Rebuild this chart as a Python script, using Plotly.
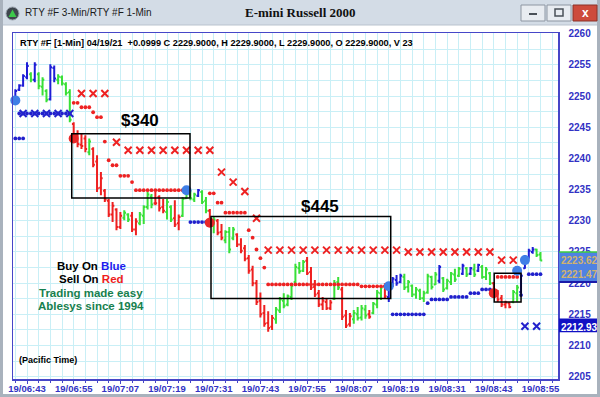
import plotly.graph_objects as go

# ---------------- data (x = minutes after 06:00, one bar per minute) ----------------
bar_minute = list(range(40, 176))            # 06:40 ... 08:55
bar_color = ("BBBBGBGGGBBGGGG" "RRRRGRRRRRRRRGG" "RRGGGGRRRGGRRGG" "GGBGGRGRRGGGRRR"
             "RRRRRRRGGGGGGGG" "RRRRRRRGGRRRGGG" "GRGGGRBBBBGGGGG" "GGGGBGGGGGBGBGB"
             "GGGRRRRRGGBBBBGG")
bar_open = [2249.3,2251.0,2251.7,2253.0,2253.5,2252.6,2253.5,2251.5,2250.8,2249.5,2254.5,2252.6,2253.0,2251.9,2250.6,
 2245.5,2243.8,2242.2,2243.2,2241.0,2241.5,2239.5,2235.3,2234.8,2233.2,2231.0,2231.8,2229.0,2230.5,2231.0,
 2230.8,2228.6,2229.6,2230.8,2232.2,2233.9,2232.8,2233.8,2232.2,2231.4,2232.2,2230.4,2229.6,2230.8,2233.6,
 2234.2,2233.4,2234.0,2234.6,2233.2,2231.6,2229.4,2230.0,2228.2,2226.9,2228.2,2227.2,2227.8,2226.2,2225.6,
 2224.0,2222.2,2220.0,2217.2,2215.2,2213.6,2213.0,2214.2,2215.6,2217.2,2216.6,2217.8,2220.2,2222.4,2222.0,
 2223.6,2221.8,2219.4,2218.4,2216.6,2217.0,2216.0,2217.5,2220.2,2219.0,2214.8,2213.4,2214.2,2215.0,2214.5,
 2215.8,2215.0,2215.2,2216.6,2218.4,2219.5,2217.8,2219.6,2220.5,2220.2,2221.0,2219.4,2219.6,2218.2,2218.8,
 2217.6,2218.5,2221.0,2219.8,2220.4,2220.8,2219.2,2220.2,2221.4,2221.2,2221.5,2222.4,2221.5,2222.2,2222.0,
 2222.6,2221.0,2221.6,2220.0,2218.6,2217.6,2216.6,2216.8,2217.0,2218.4,2218.6,2222.4,2224.2,2225.0,2225.4,2224.6]
bar_high = [2251.1,2251.9,2253.5,2255.4,2253.8,2255.4,2253.8,2253.0,2251.1,2255.1,2254.9,2253.5,2253.3,2252.2,2251.1,
 2245.8,2244.5,2244.0,2243.7,2243.2,2241.8,2240.5,2237.8,2235.1,2233.5,2233.0,2232.0,2231.4,2231.7,2231.2,
 2231.4,2230.4,2231.4,2232.5,2234.6,2234.3,2234.6,2234.1,2233.5,2233.5,2232.5,2233.3,2231.0,2233.8,2234.6,
 2234.9,2234.5,2235.1,2234.9,2233.8,2231.9,2230.6,2230.3,2229.5,2228.5,2229.0,2229.0,2228.0,2227.2,2226.1,
 2224.5,2222.8,2220.5,2218.5,2216.5,2215.5,2214.9,2216.2,2217.8,2218.4,2218.2,2219.9,2223.1,2223.4,2223.7,
 2224.2,2222.6,2220.5,2218.9,2217.8,2217.5,2217.3,2220.5,2221.0,2219.4,2215.7,2215.2,2215.7,2216.2,2216.5,
 2216.5,2215.7,2217.0,2218.9,2219.7,2220.0,2220.0,2221.0,2221.3,2221.5,2221.5,2220.5,2219.8,2219.4,2219.1,
 2218.8,2221.5,2221.2,2221.8,2222.9,2221.0,2220.7,2221.8,2222.3,2222.6,2223.1,2222.6,2222.6,2223.1,2223.1,
 2222.9,2222.6,2221.8,2220.2,2218.9,2218.1,2217.2,2217.0,2218.9,2219.7,2221.5,2224.5,2225.5,2225.8,2225.5,2225.0]
bar_low = [2249.0,2250.8,2251.5,2252.7,2252.2,2252.2,2251.1,2250.1,2249.0,2249.3,2252.2,2251.9,2251.7,2250.1,2245.8,
 2243.2,2241.8,2241.5,2241.0,2240.5,2238.6,2234.6,2234.1,2233.0,2230.6,2229.8,2228.5,2228.7,2230.1,2229.8,
 2228.2,2227.7,2229.3,2229.5,2231.8,2232.0,2232.5,2231.5,2231.2,2230.2,2229.8,2229.0,2228.5,2230.6,2233.5,
 2233.3,2233.0,2233.8,2232.7,2231.2,2229.0,2228.0,2227.7,2226.9,2226.4,2224.8,2226.9,2225.8,2224.8,2223.5,
 2221.5,2219.5,2216.5,2214.5,2213.0,2212.2,2212.5,2213.5,2215.2,2216.0,2216.3,2217.3,2220.0,2221.5,2221.8,
 2221.3,2218.9,2217.8,2216.2,2215.7,2215.7,2215.7,2217.3,2218.9,2214.1,2212.8,2213.0,2213.5,2214.0,2214.0,
 2214.3,2214.3,2215.0,2216.0,2217.3,2217.5,2217.0,2219.4,2219.6,2220.0,2218.9,2218.5,2217.8,2217.5,2217.3,
 2217.0,2218.3,2219.0,2219.7,2220.0,2218.6,2219.0,2219.7,2220.2,2221.0,2221.3,2221.0,2221.3,2221.0,2221.8,
 2220.7,2220.5,2219.7,2217.8,2217.0,2216.2,2216.0,2216.0,2216.8,2217.0,2218.3,2222.3,2223.9,2224.7,2224.2,2223.6]
bar_close = [2250.8,2251.7,2253.2,2254.8,2252.6,2255.0,2251.6,2252.6,2249.4,2254.6,2252.8,2253.1,2252.0,2250.5,2246.2,
 2243.6,2242.3,2242.0,2241.5,2242.7,2239.0,2235.2,2236.8,2233.4,2231.0,2232.4,2229.0,2230.8,2231.3,2230.2,
 2228.6,2229.9,2231.0,2232.2,2234.2,2232.6,2232.8,2232.0,2231.6,2233.0,2230.2,2229.4,2230.6,2233.5,2234.4,
 2233.6,2234.2,2234.9,2233.0,2231.6,2229.5,2230.2,2228.1,2227.3,2228.2,2225.4,2228.6,2226.2,2225.2,2223.9,
 2222.0,2220.0,2217.0,2215.0,2213.5,2212.8,2214.4,2215.8,2217.4,2216.4,2217.9,2219.6,2222.6,2221.9,2223.4,
 2221.6,2219.3,2218.2,2216.6,2217.2,2216.0,2216.9,2220.0,2219.3,2214.6,2213.2,2214.7,2215.2,2214.4,2216.0,
 2214.8,2214.6,2216.7,2218.5,2219.3,2217.9,2219.6,2220.7,2220.0,2221.2,2219.3,2220.2,2218.2,2219.0,2217.6,
 2218.4,2221.1,2219.4,2221.4,2222.6,2219.0,2220.4,2221.5,2220.6,2222.3,2222.8,2221.4,2222.4,2221.4,2222.9,
 2221.0,2222.2,2220.0,2218.2,2217.4,2216.6,2216.9,2216.2,2218.6,2219.3,2221.2,2224.1,2225.2,2225.4,2224.5,2223.62]

# 3-min stop markers (X)
red_x_time = [57, 60, 63, 66, 69, 72, 75, 78, 81, 84, 87, 90, 93, 96, 99, 102,
              105, 108, 111, 114, 117, 120, 123, 126, 129, 132, 135, 138,
              141, 144, 147, 150, 153, 156, 159, 162, 165, 168]
red_x_price = [2250.4, 2250.4, 2250.4, 2242.6, 2241.3, 2241.3, 2241.3, 2241.3, 2241.3, 2241.3, 2241.3, 2241.3,
               2237.8, 2236.2, 2234.7, 2230.4,
               2225.3, 2225.3, 2225.3, 2225.3, 2225.3, 2225.3, 2225.3, 2225.3, 2225.3, 2225.3, 2225.3, 2225.3,
               2225.0, 2225.0, 2225.0, 2225.0, 2225.0, 2225.0, 2225.0, 2225.0, 2223.7, 2223.7]
blue_x_time = [42, 45, 48, 51, 54, 171, 174]
blue_x_price = [2247.2, 2247.2, 2247.2, 2247.2, 2247.2, 2213.1, 2213.1]

# 1-min stop dots, as runs: (first minute, last minute, price)
blue_stop_from = [40, 41, 85, 137, 146, 147, 152, 157, 160, 170, 172]
blue_stop_to = [42, 54, 89, 145, 146, 151, 156, 159, 162, 170, 175]
blue_stop_price = [2243.2, 2247.2, 2229.8, 2215.0, 2216.8, 2217.4, 2217.8, 2218.4, 2219.0, 2218.1, 2221.45]
red_stop_from = [55, 57, 60, 61, 63, 64, 65, 67, 70, 71, 90, 92, 94, 100, 101, 102, 103, 104, 105, 129, 164]
red_stop_to = [56, 59, 60, 62, 63, 64, 66, 69, 70, 84, 91, 93, 99, 100, 101, 102, 103, 104, 128, 135, 169]
red_stop_price = [2248.9, 2248.2, 2247.4, 2246.6, 2242.7, 2239.7, 2238.9, 2237.2, 2236.2, 2234.9, 2234.4,
                  2232.9, 2231.3, 2228.5, 2227.3, 2225.4, 2224.0, 2222.5, 2219.8, 2219.5, 2221.0]

# signals
buy_time = [40, 84, 136, 169, 171]
buy_price = [2249.3, 2234.9, 2219.5, 2222.0, 2223.7]
sell_time = [55, 90, 163]
sell_price = [2243.2, 2229.7, 2218.4]

# trades
trade_start = [54.5, 90.3, 163.1]
trade_end = [84.9, 136.5, 170.0]
trade_high = [2243.95, 2230.7, 2221.6]
trade_low = [2233.65, 2217.55, 2217.0]
profit_text = ["$340", "$445"]
profit_time = [72.0, 118.3]
profit_price = [2246.1, 2232.3]

# axis
x_tick_minutes = [43, 55, 67, 79, 91, 103, 115, 127, 139, 151, 163, 175]
x_tick_labels = ["19/06:43", "19/06:55", "19/07:07", "19/07:19", "19/07:31", "19/07:43",
                 "19/07:55", "19/08:07", "19/08:19", "19/08:31", "19/08:43", "19/08:55"]
y_ticks = [2205, 2210, 2215, 2220, 2225, 2230, 2235, 2240, 2245, 2250, 2255, 2260]

last_price = 2223.62
stop_price = 2221.47
xstop_price = 2212.93

header = ("RTY #F [1-Min] 04/19/21  +0.0999 C 2229.9000, H 2229.9000, L 2229.9000, "
          "O 2229.9000, V 23")

assert all(len(a) == len(bar_minute) for a in (bar_color, bar_open, bar_high, bar_low, bar_close))

# ---------------- style ----------------
FONT = "Liberation Sans, Arial, sans-serif"
COL = {"B": "#1e1ed6", "G": "#38e038", "R": "#ee2020"}
AXIS_BLUE = "#3232c4"
GRID = "#c9eff6"

W, H = 600, 397
L0, T0, R0, B0 = 13, 33, 558, 379


def px(x):
    return (x - L0) / (R0 - L0)


def py(y):
    return (B0 - y) / (B0 - T0)


fig = go.Figure()


def expand(f, t, v):
    xs, ys = [], []
    for a, b, c in zip(f, t, v):
        for m in range(a, b + 1):
            xs.append(m)
            ys.append(c)
    return xs, ys


bx, by = expand(blue_stop_from, blue_stop_to, blue_stop_price)
rx, ry = expand(red_stop_from, red_stop_to, red_stop_price)
fig.add_trace(go.Scatter(x=bx, y=by, mode="markers",
                         marker=dict(size=3.8, color="#2020cc", line=dict(width=0)),
                         hoverinfo="skip", showlegend=False))
fig.add_trace(go.Scatter(x=rx, y=ry, mode="markers",
                         marker=dict(size=3.8, color="#ee2222", line=dict(width=0)),
                         hoverinfo="skip", showlegend=False))

for c in "BGR":
    idx = [i for i, ch in enumerate(bar_color) if ch == c]
    fig.add_trace(go.Ohlc(
        x=[bar_minute[i] for i in idx],
        open=[bar_open[i] for i in idx], high=[bar_high[i] for i in idx],
        low=[bar_low[i] for i in idx], close=[bar_close[i] for i in idx],
        increasing=dict(line=dict(color=COL[c], width=2)),
        decreasing=dict(line=dict(color=COL[c], width=2)),
        tickwidth=0.45, hoverinfo="skip", showlegend=False))

fig.add_trace(go.Scatter(x=red_x_time, y=red_x_price, mode="markers",
                         marker=dict(symbol="x-thin", size=7, line=dict(width=2, color="#ee2222")),
                         hoverinfo="skip", showlegend=False))
fig.add_trace(go.Scatter(x=blue_x_time, y=blue_x_price, mode="markers",
                         marker=dict(symbol="x-thin", size=7, line=dict(width=2, color="#2222cc")),
                         hoverinfo="skip", showlegend=False))
fig.add_trace(go.Scatter(x=sell_time, y=sell_price, mode="markers", cliponaxis=False,
                         marker=dict(size=10, color="#e82828", opacity=1, line=dict(width=0)),
                         hoverinfo="skip", showlegend=False))
fig.add_trace(go.Scatter(x=buy_time, y=buy_price, mode="markers", cliponaxis=False,
                         marker=dict(size=10, color="#3f7fe6", opacity=1, line=dict(width=0)),
                         hoverinfo="skip", showlegend=False))

shapes = []
for x0, x1, y1, y0 in zip(trade_start, trade_end, trade_high, trade_low):
    shapes.append(dict(type="rect", xref="x", yref="y", x0=x0, x1=x1, y0=y0, y1=y1,
                       line=dict(color="black", width=1.5), fillcolor="rgba(0,0,0,0)", layer="above"))

# right-side price boxes
shapes.append(dict(type="rect", xref="paper", yref="y", x0=px(559), x1=px(600), y0=2220.2, y1=2225.0,
                   fillcolor="#4f82e3", line=dict(width=0), layer="above"))
shapes.append(dict(type="line", xref="paper", yref="y", x0=px(559), x1=px(600), y0=2225.0, y1=2225.0,
                   line=dict(color="#3ccc3c", width=1.5), layer="above"))
shapes.append(dict(type="line", xref="paper", yref="y", x0=px(559), x1=px(600), y0=2220.2, y1=2220.2,
                   line=dict(color="#1a1aa8", width=2), layer="above"))
shapes.append(dict(type="rect", xref="paper", yref="y", x0=px(559), x1=px(600), y0=2212.15, y1=2214.35,
                   fillcolor="#1010c4", line=dict(width=0), layer="above"))

# window chrome
shapes.append(dict(type="rect", xref="paper", yref="paper", x0=px(0), x1=px(600), y0=py(25), y1=py(0),
                   fillcolor="#d3dce6", line=dict(width=0), layer="above"))
shapes.append(dict(type="line", xref="paper", yref="paper", x0=px(0), x1=px(600), y0=py(25), y1=py(25),
                   line=dict(color="#b9c3ce", width=1), layer="above"))
for a, b in ((0, 3), (597, 600)):
    shapes.append(dict(type="rect", xref="paper", yref="paper", x0=px(a), x1=px(b), y0=py(397), y1=py(0),
                       fillcolor="#a9b2bd", line=dict(width=0), layer="above"))
shapes.append(dict(type="rect", xref="paper", yref="paper", x0=px(0), x1=px(600), y0=py(397), y1=py(394),
                   fillcolor="#a9b2bd", line=dict(width=0), layer="above"))
# buttons
for a, b in ((521, 545), (547, 571)):
    shapes.append(dict(type="rect", xref="paper", yref="paper", x0=px(a), x1=px(b), y0=py(21), y1=py(5),
                       fillcolor="#e8ecf1", line=dict(color="#8d96a2", width=1), layer="above"))
shapes.append(dict(type="rect", xref="paper", yref="paper", x0=px(529), x1=px(537), y0=py(15), y1=py(13),
                   fillcolor="#4a5058", line=dict(width=0), layer="above"))
shapes.append(dict(type="rect", xref="paper", yref="paper", x0=px(555), x1=px(563), y0=py(16), y1=py(9),
                   fillcolor="rgba(0,0,0,0)", line=dict(color="#4a5058", width=1.5), layer="above"))
shapes.append(dict(type="rect", xref="paper", yref="paper", x0=px(573), x1=px(597), y0=py(21), y1=py(5),
                   fillcolor="#cd4b3c", line=dict(color="#8a3328", width=1), layer="above"))
# icon
shapes.append(dict(type="circle", xref="paper", yref="paper", x0=px(6), x1=px(19), y0=py(20), y1=py(7),
                   fillcolor="#3e454d", line=dict(color="#9aa3ad", width=1), layer="above"))
shapes.append(dict(type="path", xref="paper", yref="paper", layer="above",
                   path=f"M {px(12.5)},{py(9.5)} L {px(16.5)},{py(17)} L {px(8.5)},{py(17)} Z",
                   fillcolor="#3cc84a", line=dict(width=0)))

ann = []
for t, x, y in zip(profit_text, profit_time, profit_price):
    ann.append(dict(x=x, y=y, xref="x", yref="y", xanchor="center", yanchor="middle",
                    text=f"<b>{t}</b>", showarrow=False,
                    font=dict(family=FONT, size=17, color="black")))
ann.append(dict(x=px(18), y=py(43), xref="paper", yref="paper", xanchor="left", yanchor="middle",
                text=f"<b>{header}</b>", showarrow=False, font=dict(family=FONT, size=9.2, color="black")))
ann.append(dict(x=px(17), y=py(360), xref="paper", yref="paper", xanchor="left", yanchor="middle",
                text="<b>(Pacific Time)</b>", showarrow=False, font=dict(family=FONT, size=9, color="black")))
legend_lines = [
    ("<b>Buy On <span style='color:#1c1cee'>Blue</span></b>", 266, "black"),
    ("<b>Sell On <span style='color:#ee1c1c'>Red</span></b>", 279, "black"),
    ("<b>Trading made easy</b>", 293, "#16804e"),
    ("<b>Ablesys since 1994</b>", 306, "#16804e"),
]
for txt, yy, colr in legend_lines:
    ann.append(dict(x=px(91), y=py(yy), xref="paper", yref="paper", xanchor="center", yanchor="middle",
                    text=txt, showarrow=False, font=dict(family=FONT, size=11.5, color=colr)))
# price labels
for v, colr in ((last_price, "#d2b26e"), (stop_price, "#d2b26e"), (xstop_price, "white")):
    ann.append(dict(x=px(580), y=v, xref="paper", yref="y", xanchor="center", yanchor="middle",
                    text=f"<b>{v:.2f}</b>", showarrow=False,
                    font=dict(family=FONT, size=10, color=colr)))
# title bar texts
ann.append(dict(x=px(23), y=py(13), xref="paper", yref="paper", xanchor="left", yanchor="middle",
                text="RTY #F 3-Min/RTY #F 1-Min", showarrow=False,
                font=dict(family=FONT, size=10, color="#1a1a1a")))
ann.append(dict(x=px(300), y=py(13), xref="paper", yref="paper", xanchor="center", yanchor="middle",
                text="<b>E-mini Russell 2000</b>", showarrow=False,
                font=dict(family="Liberation Serif, Times New Roman, serif", size=13, color="#111111")))
ann.append(dict(x=px(585), y=py(13), xref="paper", yref="paper", xanchor="center", yanchor="middle",
                text="<b>x</b>", showarrow=False, font=dict(family=FONT, size=12, color="white")))

fig.update_layout(
    width=W, height=H, autosize=False,
    margin=dict(l=L0, r=W - R0, t=T0, b=H - B0, pad=0, autoexpand=False),
    paper_bgcolor="white", plot_bgcolor="white",
    shapes=shapes, annotations=ann, showlegend=False,
    xaxis=dict(range=[39.4, 179.5], tickmode="array", tickvals=x_tick_minutes, ticktext=x_tick_labels,
               automargin=False,
               showgrid=True, gridcolor=GRID, gridwidth=1, zeroline=False,
               showline=True, linecolor="#4646c8", linewidth=1.5, mirror=True,
               ticks="outside", ticklen=3, tickcolor="#4646c8", tickwidth=1, ticklabelstandoff=-3,
               tickfont=dict(family=FONT, size=9.5, color=AXIS_BLUE, weight="bold"),
               minor=dict(dtick=3, tick0=43, showgrid=True, gridcolor=GRID, ticks="outside",
                          ticklen=2, tickcolor="#4646c8"),
               rangeslider=dict(visible=False), fixedrange=True),
    yaxis=dict(range=[2204.64, 2260.1], side="right", tickmode="array", tickvals=y_ticks,
               ticktext=[str(v) for v in y_ticks], automargin=False,
               showgrid=True, gridcolor=GRID, gridwidth=1, zeroline=False,
               showline=True, linecolor="#4646c8", linewidth=1.5, mirror=True,
               ticks="", ticklabelstandoff=7,
               tickfont=dict(family=FONT, size=10, color=AXIS_BLUE, weight="bold"),
               minor=dict(dtick=2.5, tick0=2205, showgrid=True, gridcolor=GRID),
               fixedrange=True),
)

fig.write_html("out.html", config={"displayModeBar": False, "staticPlot": True},
               post_script="document.body.style.margin='0px';document.body.style.overflow='hidden';")
